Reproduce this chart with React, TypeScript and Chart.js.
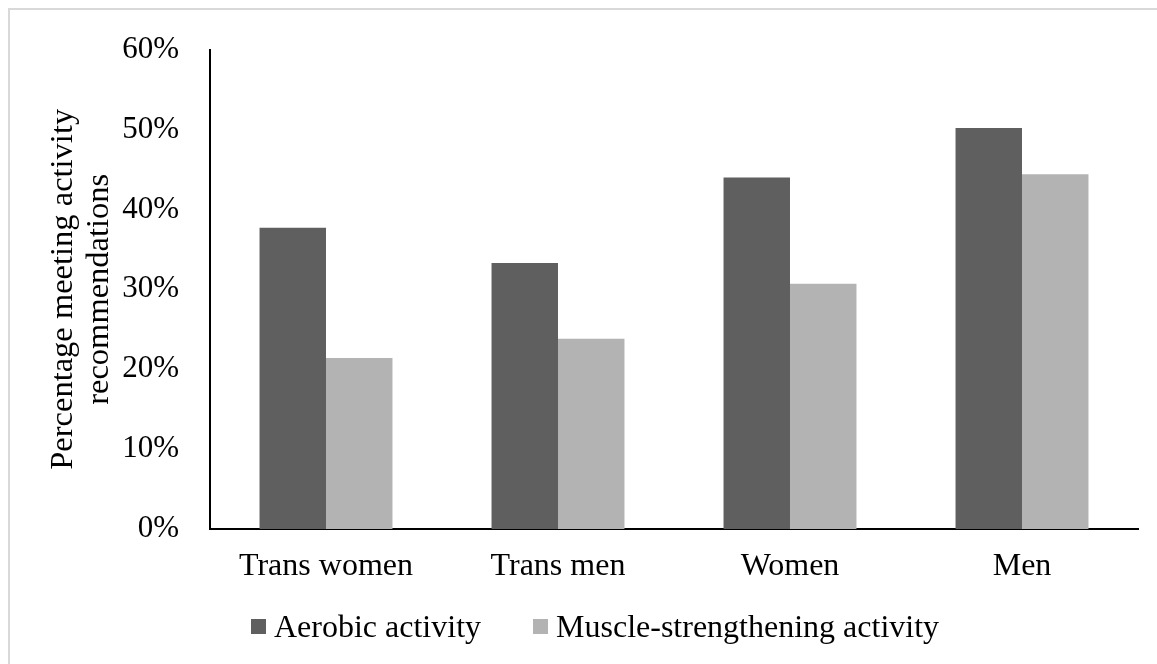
import React, { useEffect, useRef, useState } from "react";
import { Chart, registerables } from "chart.js";

Chart.register(...registerables);

const categories = ["Trans women", "Trans men", "Women", "Men"];
const aerobicValues = [37.7, 33.3, 44.0, 50.2];
const muscleValues = [21.4, 23.8, 30.7, 44.4];
const seriesNames = ["Aerobic activity", "Muscle-strengthening activity"];
const seriesColors = ["#5f5f5f", "#b3b3b3"];
const yTitle = ["Percentage meeting activity", "recommendations"];

const FONT = '"Liberation Serif", "Times New Roman", serif';

type LegendItem = { text: string; fillStyle: string };

export default function App() {
  const ref = useRef<HTMLCanvasElement | null>(null);
  const [legendItems, setLegendItems] = useState<LegendItem[]>([]);

  useEffect(() => {
    if (!ref.current) return;
    const chart = new Chart(ref.current, {
      type: "bar",
      data: {
        labels: categories,
        datasets: [
          {
            label: seriesNames[0],
            data: aerobicValues,
            backgroundColor: seriesColors[0],
            categoryPercentage: 0.573,
            barPercentage: 1.0,
          },
          {
            label: seriesNames[1],
            data: muscleValues,
            backgroundColor: seriesColors[1],
            categoryPercentage: 0.573,
            barPercentage: 1.0,
          },
        ],
      },
      options: {
        animation: false,
        responsive: false,
        devicePixelRatio: 1,
        layout: { padding: { left: 42, right: 19, top: 39, bottom: 79 } },
        plugins: {
          tooltip: { enabled: false },
          legend: { display: false },
        },
        scales: {
          x: {
            grid: { display: false, drawTicks: false },
            border: { display: true, color: "#000", width: 2 },
            ticks: {
              color: "#000",
              padding: 18,
              font: { family: FONT, size: 32, lineHeight: 1.2 },
            },
            afterFit: (s: any) => {
              s.height = 56;
            },
          },
          y: {
            min: 0,
            max: 60,
            grid: { display: false, drawTicks: false },
            border: { display: true, color: "#000", width: 2 },
            ticks: {
              stepSize: 10,
              color: "#000",
              padding: 31,
              font: { family: FONT, size: 31 },
              callback: (v: any) => v + "%",
            },
            title: {
              display: true,
              text: yTitle,
              color: "#000",
              padding: { top: 3, bottom: 0 },
              font: { family: FONT, size: 32.5, lineHeight: 1.12 },
            },
            afterFit: (s: any) => {
              s.width = 168;
            },
          },
        },
      },
    });
    const gen = (Chart.defaults.plugins.legend.labels as any).generateLabels(chart);
    setLegendItems(gen.map((g: any) => ({ text: g.text, fillStyle: g.fillStyle })));
    return () => chart.destroy();
  }, []);

  return (
    <div
      style={{
        position: "absolute",
        left: 0,
        top: 0,
        width: 1157,
        height: 664,
        overflow: "hidden",
        background: "#fff",
      }}
    >
      <div
        style={{
          position: "absolute",
          left: 8,
          top: 8,
          right: 0,
          bottom: 0,
          borderLeft: "2px solid #d9d9d9",
          borderTop: "2px solid #d9d9d9",
        }}
      />
      <canvas
        ref={ref}
        width={1157}
        height={664}
        style={{ position: "absolute", left: 0, top: 0, width: 1157, height: 664 }}
      />
      <div
        style={{
          position: "absolute",
          left: 251,
          top: 606,
          height: 40,
          display: "flex",
          alignItems: "center",
          gap: 52,
          fontFamily: FONT,
          fontSize: 32,
          color: "#000",
          whiteSpace: "nowrap",
        }}
      >
        {legendItems.map((it, i) => (
          <div key={i} style={{ display: "flex", alignItems: "center" }}>
            <span
              style={{
                display: "inline-block",
                width: 15,
                height: 15,
                background: it.fillStyle,
                marginRight: 8,
              }}
            />
            <span style={{ lineHeight: "40px" }}>{it.text}</span>
          </div>
        ))}
      </div>
    </div>
  );
}
